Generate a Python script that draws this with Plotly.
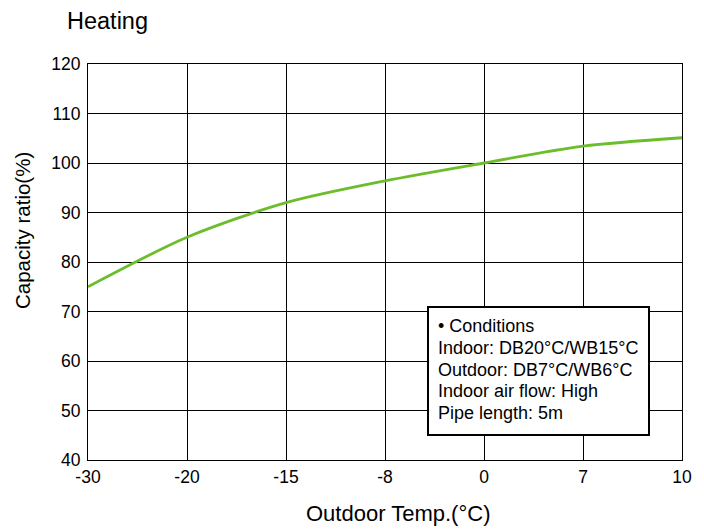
import plotly.graph_objects as go

temps = ["-30", "-20", "-15", "-8", "0", "7", "10"]
capacity = [75.0, 85.0, 92.0, 96.4, 100.0, 103.4, 105.1]
y_ticks = [40, 50, 60, 70, 80, 90, 100, 110, 120]
condition_lines = [
    "• Conditions",
    "Indoor: DB20°C/WB15°C",
    "Outdoor: DB7°C/WB6°C",
    "Indoor air flow: High",
    "Pipe length: 5m",
]

idx = list(range(len(temps)))

# page body has 8px margin; plot area on screen: x 88..682, y 64..460
PL, PR, PT, PB = 88, 682, 64, 460
def px_x(x):
    return (x - PL) / (PR - PL)
def px_y(y):
    return (PB - y) / (PB - PT)

fig = go.Figure()
fig.add_trace(go.Scatter(
    x=idx, y=capacity, mode="lines",
    line=dict(color="#6cbd2c", width=2.8, shape="spline", smoothing=0.8),
    hoverinfo="skip", showlegend=False,
))

font = "Liberation Sans, Arial, sans-serif"
annotations = [
    dict(text="Heating", xref="paper", yref="paper",
         x=px_x(65), y=px_y(21), xanchor="left", yanchor="middle",
         showarrow=False, font=dict(size=23.5)),
    dict(text="Outdoor Temp.(°C)", xref="paper", yref="paper",
         x=px_x(398), y=px_y(514), xanchor="center", yanchor="middle",
         showarrow=False, font=dict(size=22)),
    dict(text="Capacity ratio(%)", xref="paper", yref="paper",
         x=px_x(22), y=px_y(231), xanchor="center", yanchor="middle",
         textangle=-90, showarrow=False, font=dict(size=20.5)),
]
line_y = [326, 348, 370, 391, 413]
for t, yy in zip(condition_lines, line_y):
    annotations.append(dict(
        text=t, xref="paper", yref="paper", x=px_x(436), y=px_y(yy),
        xanchor="left", yanchor="middle", showarrow=False,
        font=dict(size=18)))

fig.update_layout(
    width=688, height=524,
    margin=dict(l=80, r=14, t=56, b=72, autoexpand=False),
    paper_bgcolor="white", plot_bgcolor="white",
    font=dict(family=font, color="black", size=18),
    showlegend=False,
    xaxis=dict(
        range=[0, 6], tickmode="array", tickvals=idx, ticktext=temps,
        showgrid=True, gridcolor="black", gridwidth=1,
        showline=True, linecolor="black", linewidth=1, mirror=True,
        zeroline=False, ticks="", ticklabelstandoff=1, tickfont=dict(size=17.5),
        automargin=False,
    ),
    yaxis=dict(
        range=[40, 120], tickmode="array", tickvals=y_ticks,
        showgrid=True, gridcolor="black", gridwidth=1,
        showline=True, linecolor="black", linewidth=1, mirror=True,
        zeroline=False, ticks="", ticklabelstandoff=3, tickfont=dict(size=17.5),
        automargin=False,
    ),
    shapes=[dict(
        type="rect", xref="paper", yref="paper", layer="above",
        x0=px_x(428), x1=px_x(649), y0=px_y(435), y1=px_y(307),
        line=dict(color="black", width=2), fillcolor="white",
    )],
    annotations=annotations,
)

fig.write_html("out.html")
